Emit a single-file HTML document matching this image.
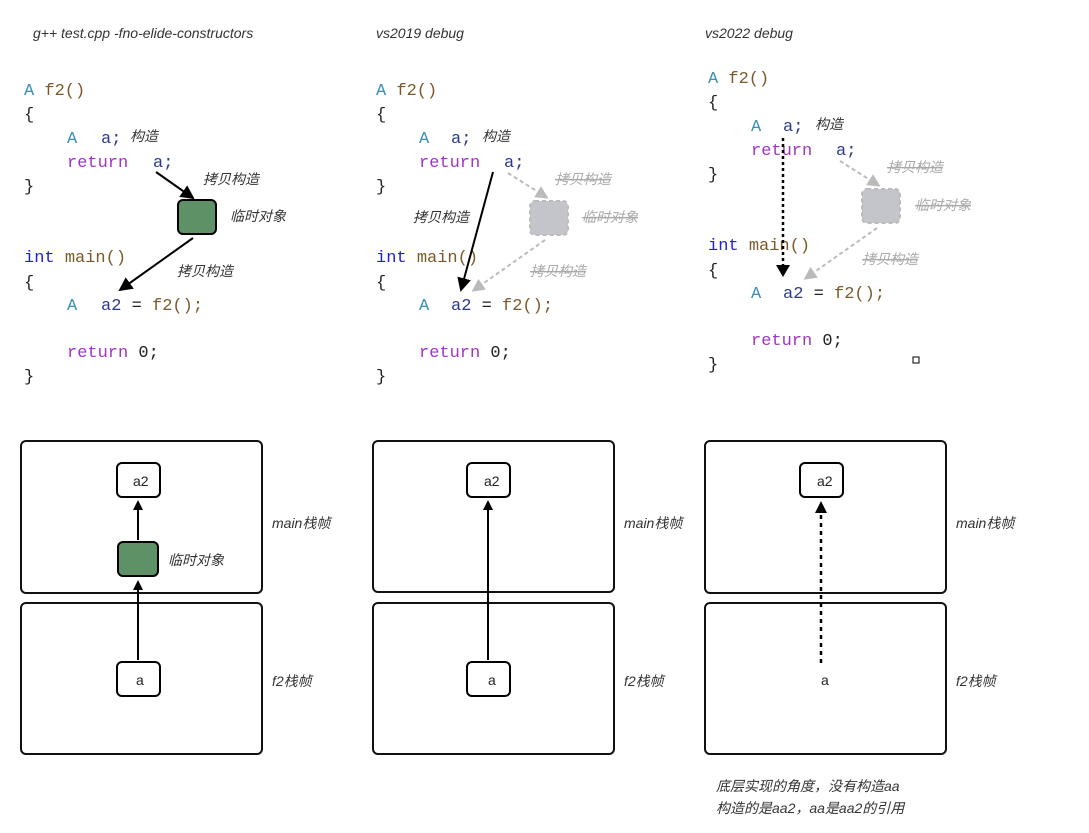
<!DOCTYPE html>
<html><head><meta charset="utf-8"><style>
html,body{margin:0;padding:0;background:#fff;}
svg{display:block}
.c{font-family:"Liberation Mono",monospace;font-size:17px}
.t{fill:#3a8fb7}.f{fill:#7a5a2a}.k{fill:#a035c0}.v{fill:#2c3a8c}.b{fill:#1f1fe0}.p{fill:#222}
.lb{font-family:"Liberation Sans","Noto Sans CJK SC",sans-serif;font-style:italic;font-size:14px;fill:#333}
.g{fill:#aaa}
.n{font-family:"Liberation Sans",sans-serif;font-size:14px;fill:#222}
</style></head><body>
<svg width="1089" height="833" viewBox="0 0 1089 833">
<defs>
<marker id="ah" markerWidth="10" markerHeight="10" refX="8" refY="5" orient="auto" markerUnits="userSpaceOnUse"><path d="M0,0 L10,5 L0,10z" fill="#000"/></marker>
<marker id="ahb" markerWidth="14" markerHeight="14" refX="12" refY="7" orient="auto" markerUnits="userSpaceOnUse"><path d="M0,0 L14,7 L0,14z" fill="#000"/></marker>
<marker id="ahg" markerWidth="13" markerHeight="13" refX="10" refY="6.5" orient="auto" markerUnits="userSpaceOnUse"><path d="M0,0 L13,6.5 L0,13z" fill="#bbb"/></marker>
</defs>
<text class="lb" x="33" y="38" font-size="15">g++ test.cpp -fno-elide-constructors</text>
<text class="lb" x="376" y="38" font-size="15">vs2019 debug</text>
<text class="lb" x="705" y="38" font-size="15">vs2022 debug</text>

<!-- code panel 1 -->
<g class="c">
<text x="24" y="95"><tspan class="t">A</tspan> <tspan class="f">f2()</tspan></text>
<text x="24" y="119" class="p">{</text>
<text x="67" y="143"><tspan class="t">A</tspan><tspan class="v" x="101">a;</tspan></text>
<text x="67" y="167"><tspan class="k">return</tspan><tspan class="v" x="153">a;</tspan></text>
<text x="24" y="191" class="p">}</text>
<text x="24" y="262"><tspan class="b">int</tspan> <tspan class="f">main()</tspan></text>
<text x="24" y="287" class="p">{</text>
<text x="67" y="310"><tspan class="t">A</tspan><tspan class="v" x="101">a2</tspan><tspan class="p"> = </tspan><tspan class="f">f2();</tspan></text>
<text x="67" y="357"><tspan class="k">return</tspan><tspan class="p"> 0;</tspan></text>
<text x="24" y="381" class="p">}</text>
</g>
<text class="lb" x="130" y="141">构造</text>
<text class="lb" x="203" y="184">拷贝构造</text>
<text class="lb" x="230" y="221">临时对象</text>
<text class="lb" x="177" y="276">拷贝构造</text>
<rect x="178" y="200" width="38" height="34" rx="5" fill="#5e9166" stroke="#000" stroke-width="2"/>
<line x1="156" y1="172" x2="193" y2="198" stroke="#000" stroke-width="2" marker-end="url(#ahb)"/>
<line x1="193" y1="238" x2="120" y2="290" stroke="#000" stroke-width="2" marker-end="url(#ahb)"/>

<!-- code panel 2 -->
<g class="c">
<text x="376" y="95"><tspan class="t">A</tspan> <tspan class="f">f2()</tspan></text>
<text x="376" y="119" class="p">{</text>
<text x="419" y="143"><tspan class="t">A</tspan><tspan class="v" x="451">a;</tspan></text>
<text x="419" y="167"><tspan class="k">return</tspan><tspan class="v" x="504">a;</tspan></text>
<text x="376" y="191" class="p">}</text>
<text x="376" y="262"><tspan class="b">int</tspan> <tspan class="f">main()</tspan></text>
<text x="376" y="287" class="p">{</text>
<text x="419" y="310"><tspan class="t">A</tspan><tspan class="v" x="451">a2</tspan><tspan class="p"> = </tspan><tspan class="f">f2();</tspan></text>
<text x="419" y="357"><tspan class="k">return</tspan><tspan class="p"> 0;</tspan></text>
<text x="376" y="381" class="p">}</text>
</g>
<text class="lb" x="482" y="141">构造</text>
<text class="lb g" x="555" y="184" text-decoration="line-through">拷贝构造</text>
<text class="lb g" x="582" y="222" text-decoration="line-through">临时对象</text>
<text class="lb g" x="530" y="276" text-decoration="line-through">拷贝构造</text>
<text class="lb" x="413" y="222">拷贝构造</text>
<rect x="530" y="201" width="38" height="34" rx="5" fill="#c4c5ca" stroke="#bbb" stroke-width="2" stroke-dasharray="4 3"/>
<line x1="508" y1="173" x2="546" y2="197" stroke="#bbb" stroke-width="2" stroke-dasharray="4 3" marker-end="url(#ahg)"/>
<line x1="545" y1="240" x2="474" y2="290" stroke="#bbb" stroke-width="2" stroke-dasharray="4 3" marker-end="url(#ahg)"/>
<line x1="493" y1="172" x2="461" y2="290" stroke="#000" stroke-width="2" marker-end="url(#ahb)"/>

<!-- code panel 3 -->
<g class="c">
<text x="708" y="83"><tspan class="t">A</tspan> <tspan class="f">f2()</tspan></text>
<text x="708" y="107" class="p">{</text>
<text x="751" y="131"><tspan class="t">A</tspan><tspan class="v" x="783">a;</tspan></text>
<text x="751" y="155"><tspan class="k">return</tspan><tspan class="v" x="836">a;</tspan></text>
<text x="708" y="179" class="p">}</text>
<text x="708" y="250"><tspan class="b">int</tspan> <tspan class="f">main()</tspan></text>
<text x="708" y="275" class="p">{</text>
<text x="751" y="298"><tspan class="t">A</tspan><tspan class="v" x="783">a2</tspan><tspan class="p"> = </tspan><tspan class="f">f2();</tspan></text>
<text x="751" y="345"><tspan class="k">return</tspan><tspan class="p"> 0;</tspan></text>
<text x="708" y="369" class="p">}</text>
</g>
<text class="lb" x="815" y="129">构造</text>
<text class="lb g" x="887" y="172" text-decoration="line-through">拷贝构造</text>
<text class="lb g" x="915" y="210" text-decoration="line-through">临时对象</text>
<text class="lb g" x="862" y="264" text-decoration="line-through">拷贝构造</text>
<rect x="862" y="189" width="38" height="34" rx="5" fill="#c4c5ca" stroke="#bbb" stroke-width="2" stroke-dasharray="4 3"/>
<line x1="840" y1="161" x2="878" y2="185" stroke="#bbb" stroke-width="2" stroke-dasharray="4 3" marker-end="url(#ahg)"/>
<line x1="877" y1="228" x2="806" y2="278" stroke="#bbb" stroke-width="2" stroke-dasharray="4 3" marker-end="url(#ahg)"/>
<line x1="783" y1="138" x2="783" y2="268" stroke="#000" stroke-width="2.5" stroke-dasharray="3 3"/>
<path d="M776,265 L790,265 L783,277z" fill="#000"/>
<rect x="913" y="357" width="6" height="6" fill="none" stroke="#000" stroke-width="1"/>

<!-- bottom boxes -->
<g fill="none" stroke="#111" stroke-width="2">
<rect x="21" y="441" width="241" height="152" rx="5"/>
<rect x="21" y="603" width="241" height="151" rx="5"/>
<rect x="373" y="441" width="241" height="151" rx="5"/>
<rect x="373" y="603" width="241" height="151" rx="5"/>
<rect x="705" y="441" width="241" height="152" rx="5"/>
<rect x="705" y="603" width="241" height="151" rx="5"/>
</g>
<g class="lb" font-size="15">
<text x="272" y="528">main栈帧</text><text x="272" y="686">f2栈帧</text>
<text x="624" y="528">main栈帧</text><text x="624" y="686">f2栈帧</text>
<text x="956" y="528">main栈帧</text><text x="956" y="686">f2栈帧</text>
</g>
<!-- panel1 nodes -->
<rect x="117" y="463" width="43" height="34" rx="5" fill="#fff" stroke="#000" stroke-width="2"/>
<text class="n" x="133" y="486">a2</text>
<rect x="118" y="542" width="40" height="34" rx="5" fill="#5e9166" stroke="#000" stroke-width="2"/>
<text class="lb" x="168" y="565" font-style="normal">临时对象</text>
<rect x="117" y="662" width="43" height="34" rx="5" fill="#fff" stroke="#000" stroke-width="2"/>
<text class="n" x="136" y="685">a</text>
<line x1="138" y1="660" x2="138" y2="582" stroke="#000" stroke-width="2" marker-end="url(#ah)"/>
<line x1="138" y1="540" x2="138" y2="502" stroke="#000" stroke-width="2" marker-end="url(#ah)"/>
<!-- panel2 nodes -->
<rect x="467" y="463" width="43" height="34" rx="5" fill="#fff" stroke="#000" stroke-width="2"/>
<text class="n" x="484" y="486">a2</text>
<rect x="467" y="662" width="43" height="34" rx="5" fill="#fff" stroke="#000" stroke-width="2"/>
<text class="n" x="488" y="685">a</text>
<line x1="488" y1="660" x2="488" y2="502" stroke="#000" stroke-width="2" marker-end="url(#ah)"/>
<!-- panel3 nodes -->
<rect x="800" y="463" width="43" height="34" rx="5" fill="#fff" stroke="#000" stroke-width="2"/>
<text class="n" x="817" y="486">a2</text>
<text class="n" x="821" y="685">a</text>
<line x1="821" y1="663" x2="821" y2="512" stroke="#000" stroke-width="2.5" stroke-dasharray="4 4"/>
<path d="M815,513 L827,513 L821,501z" fill="#000"/>
<text class="lb" x="716" y="791">底层实现的角度，没有构造aa</text>
<text class="lb" x="716" y="813">构造的是aa2，aa是aa2的引用</text>
</svg>
</body></html>
